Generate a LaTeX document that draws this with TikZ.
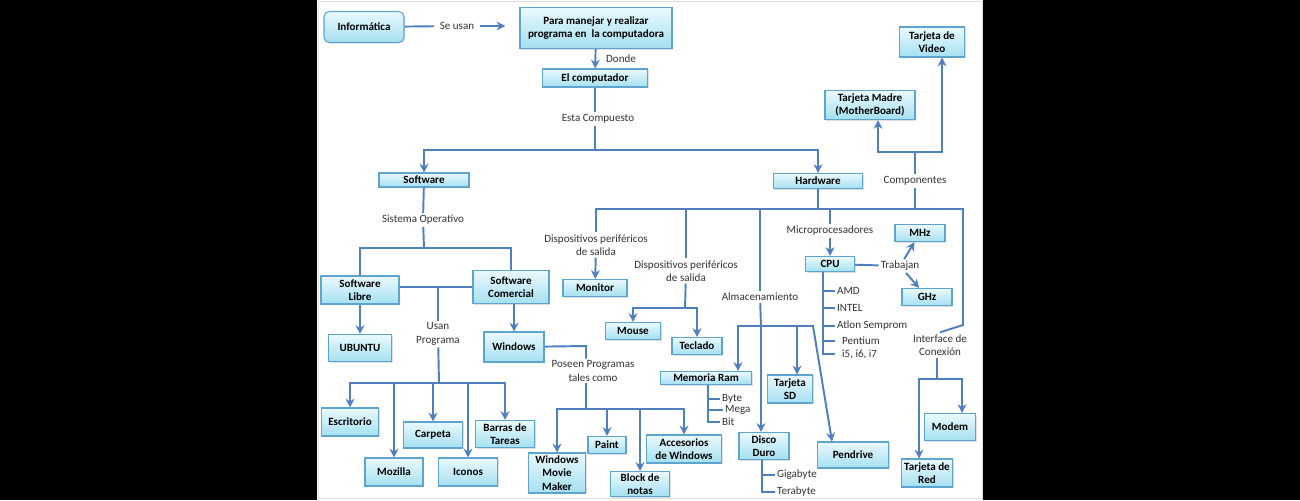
\documentclass[tikz,border=0pt]{standalone}
\usepackage{fontspec}
\setmainfont{Carlito}
\usetikzlibrary{arrows.meta,shadows}
\definecolor{linkblue}{HTML}{4F7FBF}
\definecolor{boxline}{HTML}{5FA3CF}
\definecolor{boxtop}{HTML}{EAF9FD}
\definecolor{boxbot}{HTML}{A4E0F1}
\begin{document}
\begin{tikzpicture}[x=0.02cm, y=-0.02cm,
  box/.style={draw=boxline, line width=0.6pt, top color=boxtop, bottom color=boxbot, align=center, inner sep=0pt,
    font=\fontsize{6.3}{7.6}\selectfont\bfseries, drop shadow={shadow xshift=0.6pt, shadow yshift=-0.6pt, opacity=0.25}},
  lbl/.style={font=\fontsize{6.3}{7.6}\selectfont, text=black!80, align=center, inner sep=1pt},
  link/.style={draw=linkblue, line width=1.1pt},
  arr/.style={link, -{Stealth[length=5pt, width=5pt]}}]
% background and page
\fill[black] (0,0) rectangle (1300,500);
\fill[white] (317,0) rectangle (983,500);
\draw[gray!25] (318,1) rectangle (982,498);
% top part
\node[box, rounded corners=3pt, minimum width=1.6cm, minimum height=0.62cm] (informatica) at (364,27) {Informática};
\node[box, minimum width=3.04cm, minimum height=0.82cm] (para) at (596,28) {Para manejar y realizar\\programa en \ la computadora};
\node[box, minimum width=2.1cm, minimum height=0.36cm] (elcomp) at (595,78) {El computador};
\node[lbl, inner sep=3pt] (seusan) at (457,26) {Se usan};
\node[lbl] (donde) at (621,59) {Donde};
\node[lbl] (esta) at (598,119) {Esta Compuesto};
\draw[link] (informatica) -- (seusan);
\draw[arr, shorten >=8pt] (seusan) -- (seusan -| para.west);
\draw[arr] (para) -- (elcomp);
\coordinate (bus1) at (595,150);
\draw[link] (elcomp) -- (elcomp |- esta.north);
\draw[link] (esta.south -| elcomp) -- (bus1);
% software side
\node[box, minimum width=1.8cm, minimum height=0.28cm] (software) at (424,180) {Software};
\node[box, minimum width=1.78cm, minimum height=0.3cm] (hardware) at (818,181) {Hardware};
\draw[arr] (bus1) -| (software);
\draw[arr] (bus1) -| (hardware);
\node[lbl] (sisop) at (423,220) {Sistema Operativo};
\coordinate (bus2) at (424,248);
\node[box, minimum width=1.56cm, minimum height=0.56cm] (swlibre) at (360,290) {Software\\Libre};
\node[box, minimum width=1.52cm, minimum height=0.66cm] (swcom) at (511,287) {Software\\Comercial};
\draw[link] (software) -- (sisop);
\draw[link] (sisop) -- (bus2);
\draw[link] (bus2) -| (swlibre);
\draw[link] (bus2) -| (swcom);
\coordinate (usanjoin) at (438,287);
\draw[link] (swlibre.east |- usanjoin) -- (swcom.west);
\node[lbl] (usan) at (438,334) {Usan\\Programa};
\draw[link] (usanjoin) -- (usan);
\node[box, minimum width=1.26cm, minimum height=0.54cm] (ubuntu) at (360,348) {UBUNTU};
\node[box, minimum width=1.2cm, minimum height=0.6cm] (windows) at (514,347) {Windows};
\draw[arr] (swlibre) -- (ubuntu);
\draw[arr] (swcom.south -| windows) -- (windows);
\coordinate (bus3) at (439,383);
\draw[link] (usan) -- (bus3);
\node[box, minimum width=1.14cm, minimum height=0.56cm] (escritorio) at (350,422) {Escritorio};
\node[box, minimum width=1.16cm, minimum height=0.56cm] (mozilla) at (394,472) {Mozilla};
\node[box, minimum width=1.18cm, minimum height=0.52cm] (carpeta) at (433,435) {Carpeta};
\node[box, minimum width=1.18cm, minimum height=0.56cm] (iconos) at (468,472) {Iconos};
\node[box, minimum width=1.18cm, minimum height=0.54cm] (barras) at (505,434) {Barras de\\Tareas};
\foreach \n in {escritorio,mozilla,carpeta,iconos,barras}
  \draw[arr] (bus3) -| (\n);
\node[lbl] (poseen) at (593,371) {Poseen Programas\\tales como};
\coordinate (wturn) at (586,346);
\coordinate (bus4) at (586,409);
\draw[link] (windows) -- (wturn) -- (wturn |- poseen.north);
\draw[link] (poseen.south -| wturn) -- (bus4);
\node[box, minimum width=1.14cm, minimum height=0.8cm] (wmm) at (557,473) {Windows\\Movie\\Maker};
\node[box, minimum width=0.76cm, minimum height=0.34cm] (paint) at (607,445) {Paint};
\node[box, minimum width=1.18cm, minimum height=0.5cm] (block) at (640,484) {Block de\\notas};
\node[box, minimum width=1.5cm, minimum height=0.56cm] (accesorios) at (684,449) {Accesorios\\de Windows};
\foreach \n in {wmm,paint,block,accesorios}
  \draw[arr] (bus4) -| (\n);
% hardware side
\coordinate (bus5) at (818,209);
\coordinate (busR) at (963,209);
\coordinate (ibend) at (963,325);
\draw[link] (hardware) -- (bus5);
\node[lbl] (comp) at (915,181) {Componentes};
\coordinate (cjoin) at (915,152);
\node[box, minimum width=1.8cm, minimum height=0.58cm] (madre) at (870,105) {Tarjeta Madre\\(MotherBoard)};
\node[box, minimum width=1.3cm, minimum height=0.6cm] (video) at (932,42) {Tarjeta de\\Video};
\draw[link] (comp) -- (comp |- bus5);
\draw[link] (comp) -- (cjoin);
\draw[arr] (cjoin) -| ([xshift=0.16cm]madre.south);
\draw[arr] (cjoin) -| ([xshift=0.2cm]video.south);
\node[lbl] (disp1) at (596,245) {Dispositivos periféricos\\de salida};
\node[box, minimum width=1.28cm, minimum height=0.34cm] (monitor) at (595,288) {Monitor};
\draw[link] (bus5) -| (disp1);
\draw[arr] (disp1) -- (monitor);
\node[lbl] (disp2) at (686,271) {Dispositivos periféricos\\de salida};
\coordinate (bus7) at (685,308);
\node[box, minimum width=1.1cm, minimum height=0.34cm] (mouse) at (633,331) {Mouse};
\node[box, minimum width=1.0cm, minimum height=0.34cm] (teclado) at (697,346) {Teclado};
\draw[link] (bus5) -| (disp2);
\draw[link] (disp2) -- (bus7);
\draw[arr] (bus7) -| (mouse);
\draw[arr] (bus7) -| (teclado);
\node[lbl] (almac) at (760,297) {Almacenamiento};
\coordinate (bus6) at (761,326);
\coordinate (pturn) at (813,326);
\node[box, minimum width=1.82cm, minimum height=0.26cm] (memram) at (706,378) {Memoria Ram};
\node[box, minimum width=0.9cm, minimum height=0.56cm] (sd) at (790,389) {Tarjeta\\SD};
\node[box, minimum width=1.0cm, minimum height=0.54cm] (disco) at (764,446) {Disco\\Duro};
\node[box, minimum width=1.42cm, minimum height=0.52cm] (pendrive) at (853,455) {Pendrive};
\draw[link] (bus5) -| (almac);
\draw[link] (almac) -- (bus6);
\draw[arr] (bus6) -| ([xshift=0.64cm]memram.north);
\draw[arr] (bus6) -- (bus6 |- disco.north);
\draw[arr] (bus6) -| ([xshift=0.14cm]sd.north);
\draw[arr] (bus6) -- (pturn) -- ([xshift=-0.42cm]pendrive.north);
\node[lbl, anchor=west] (byte) at (720,399) {Byte};
\node[lbl, anchor=west] (mega) at (723,410) {Mega};
\node[lbl, anchor=west] (bit) at (720,422) {Bit};
\foreach \n in {byte,mega,bit}
  \draw[link, line width=0.9pt] ([xshift=0.04cm]memram.south) |- (\n.west);
\node[lbl, anchor=west] (giga) at (775,475) {Gigabyte};
\node[lbl, anchor=west] (tera) at (775,492) {Terabyte};
\foreach \n in {giga,tera}
  \draw[link, line width=0.9pt] ([xshift=-0.04cm]disco.south) |- (\n.west);
\node[lbl] (micro) at (830,231) {Microprocesadores};
\node[box, minimum width=0.98cm, minimum height=0.3cm] (cpu) at (830,264) {CPU};
\draw[link] (bus5) -| (micro);
\draw[arr] (micro) -- (cpu);
\node[lbl] (trabajan) at (900,266) {Trabajan};
\node[box, minimum width=1.0cm, minimum height=0.34cm] (mhz) at (920,233) {MHz};
\node[box, minimum width=1.0cm, minimum height=0.34cm] (ghz) at (927,297) {GHz};
\draw[link] (cpu) -- (trabajan);
\draw[arr] (trabajan) -- (mhz);
\draw[arr] (trabajan) -- (ghz);
\node[lbl, anchor=west] (amd) at (835,291) {AMD};
\node[lbl, anchor=west] (intel) at (835,308) {INTEL};
\node[lbl, anchor=west] (atlon) at (835,326) {Atlon Semprom};
\node[lbl, anchor=west] (pentium) at (840,341) {Pentium};
\node[lbl, anchor=west] (ifive) at (840,354) {i5, i6, i7};
\foreach \n in {amd,intel,atlon}
  \draw[link, line width=0.9pt] ([xshift=-0.14cm]cpu.south) |- (\n.west);
\foreach \n in {pentium,ifive}
  \draw[link, line width=0.9pt] ([xshift=-0.14cm]cpu.south) |- ([xshift=-0.1cm]\n.west);
\node[lbl] (interf) at (940,345) {Interface de\\Conexión};
\draw[link] (bus5) -- (busR) -- (ibend) -- (interf.north);
\coordinate (bus8) at (937,379);
\node[box, minimum width=1.02cm, minimum height=0.54cm] (modem) at (950,427) {Modem};
\node[box, minimum width=1.02cm, minimum height=0.56cm] (red) at (927,473) {Tarjeta de\\Red};
\draw[link] (interf.south -| bus8) -- (bus8);
\draw[arr] (bus8) -| ([xshift=0.24cm]modem.north);
\draw[arr] (bus8) -| ([xshift=-0.16cm]red.north);
\end{tikzpicture}
\end{document}
